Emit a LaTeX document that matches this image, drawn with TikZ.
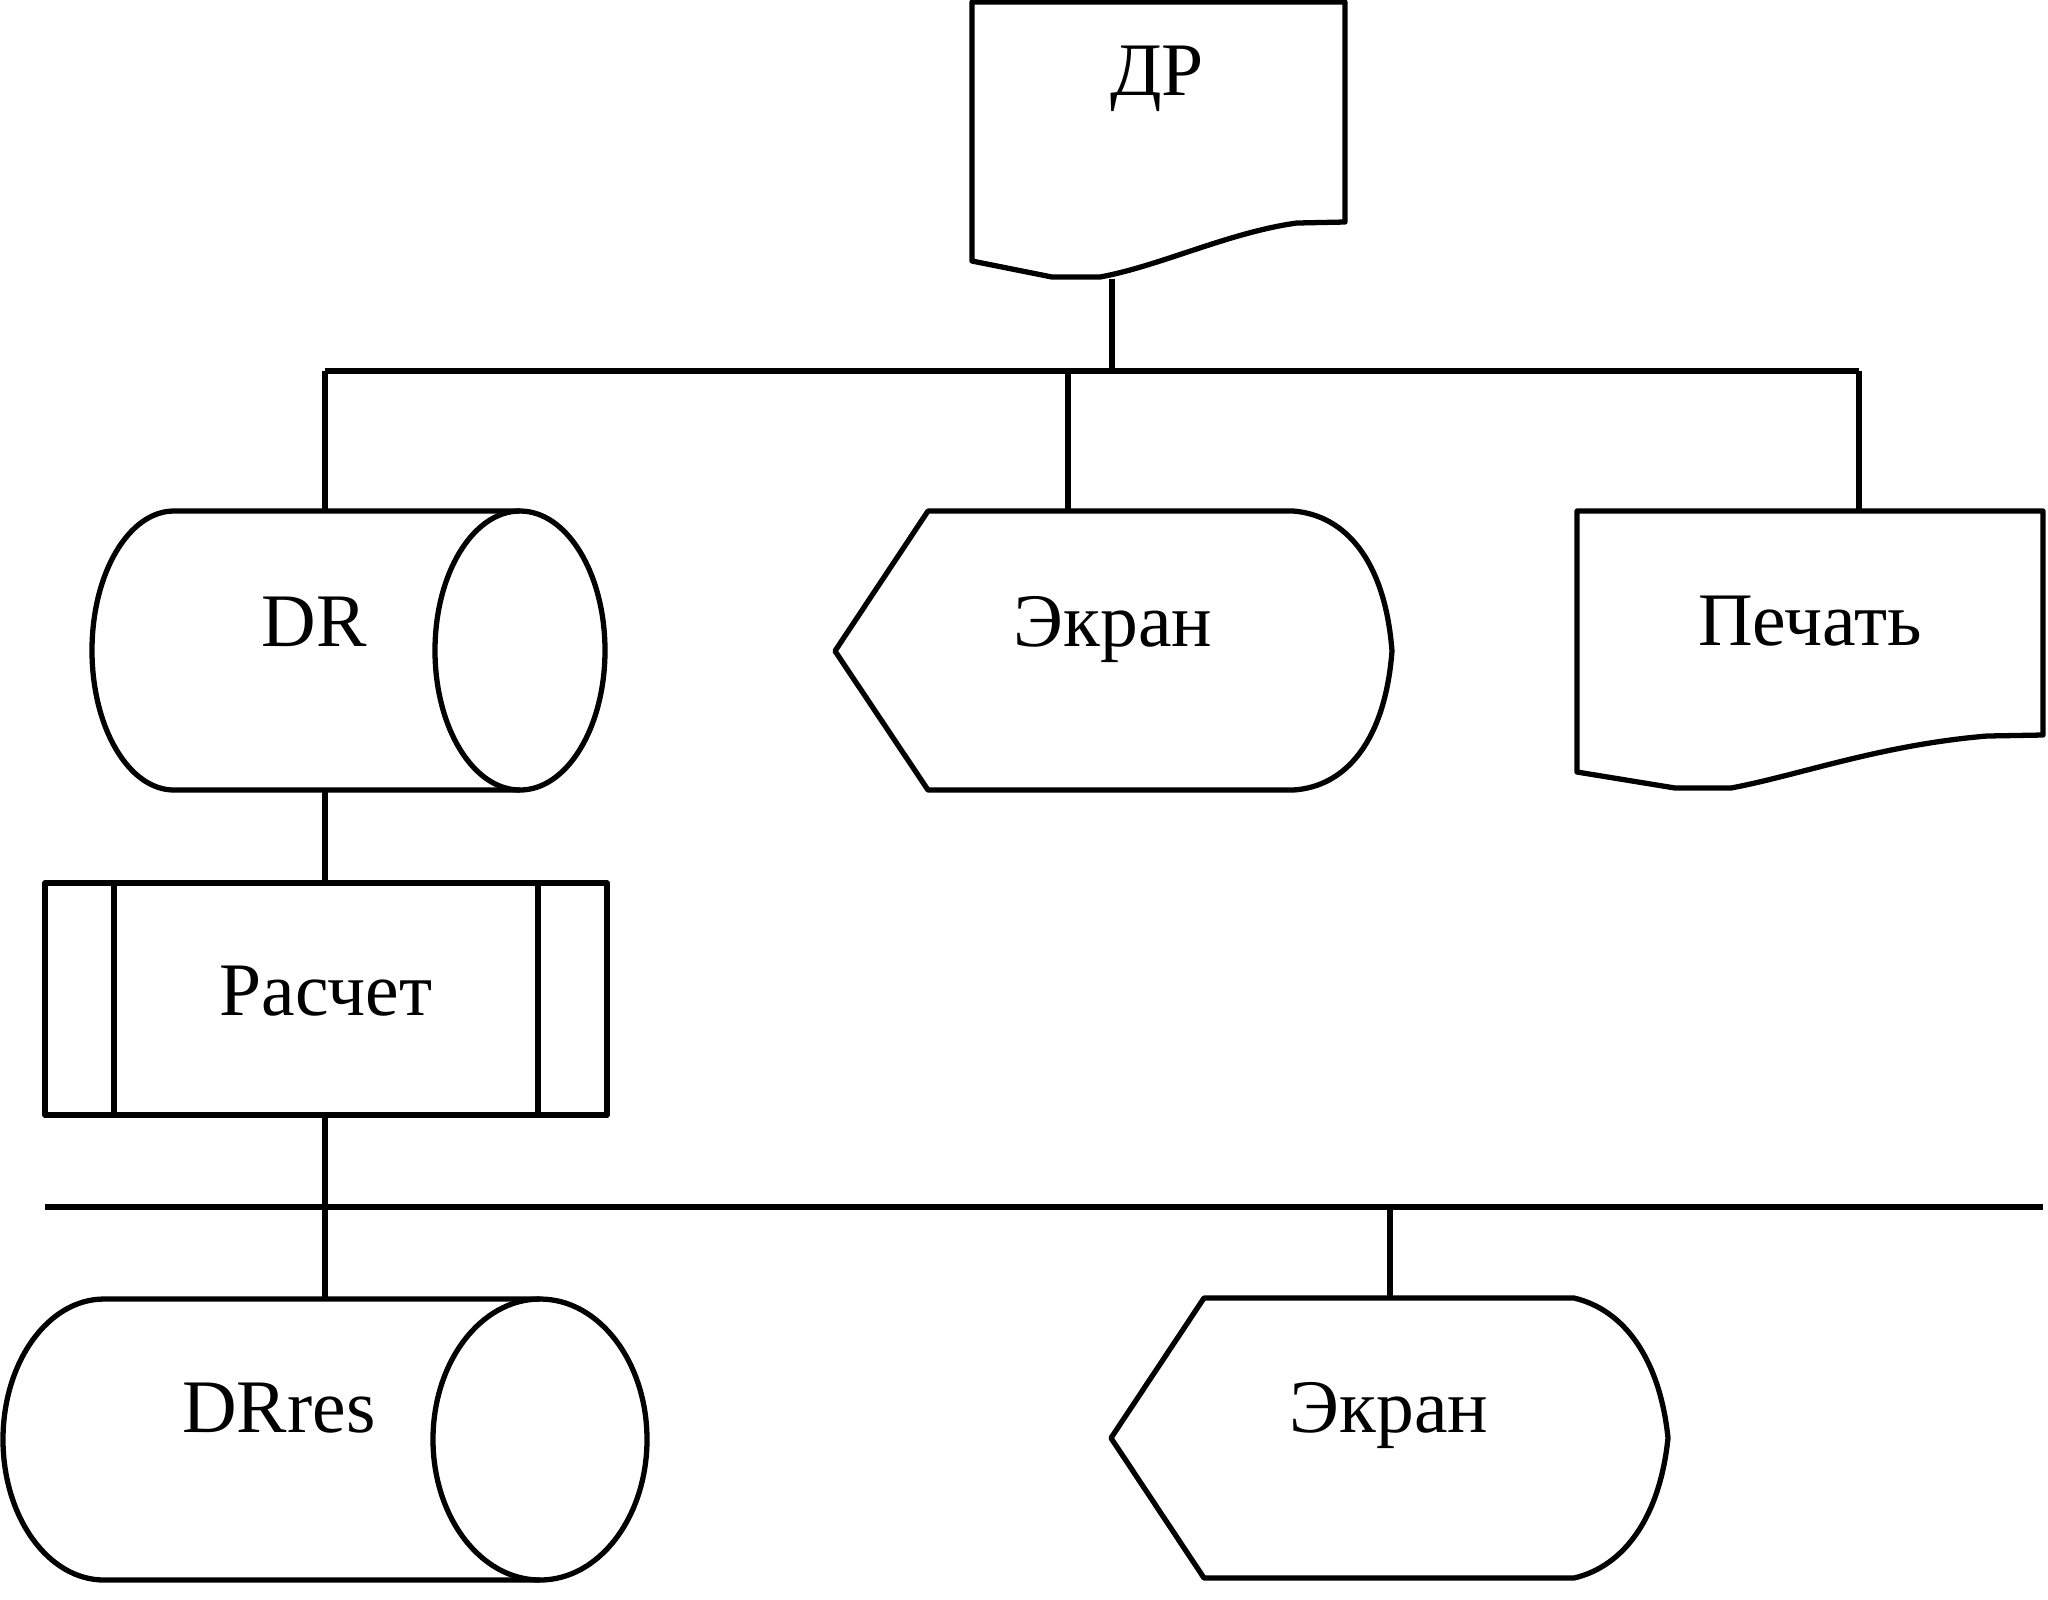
\documentclass[tikz,border=0pt]{standalone}
\usepackage{fontspec}
\setmainfont{Liberation Serif}
\usepackage{tikz}

\begin{document}
\begin{tikzpicture}
                        [x=0.01cm,y=-0.01cm,line width=1.5pt,line join=round,
                        lbl/.style={anchor=base,inner sep=0pt,font=\fontsize{21.5}{26}\selectfont}]
                        \useasboundingbox (0,0) rectangle (2048,1599);
                        % shapes
                        \draw (972,261) -- (1052,277) -- (1100,277) .. controls (1160,266) and (1230,232) .. (1297,223) -- (1345,222) -- (1345,2) -- (972,2) -- cycle;
                        \draw (520,511) -- (174,511) arc[start angle=270,end angle=90,x radius=82,y radius=139.5] -- (520,790);
                        \draw (520,650.5) ellipse[x radius=85,y radius=139.5];
                        \draw (928,511) -- (1293,511) .. controls (1345,515) and (1385,560) .. (1392,651) .. controls (1385,742) and (1345,787) .. (1293,790) -- (928,790) -- (835,651) -- cycle;
                        \draw (1577,772) -- (1675,788) -- (1731,788) .. controls (1800,775) and (1880,745) .. (1987,736) -- (2043,735) -- (2043,511) -- (1577,511) -- cycle;
                        \draw (45,883) rectangle (607,1115);
                        \draw (114,883) -- (114,1115);
                        \draw (538,883) -- (538,1115);
                        \draw (540,1299) -- (104,1299) arc[start angle=270,end angle=90,x radius=101,y radius=140.5] -- (540,1580);
                        \draw (540,1439.5) ellipse[x radius=107,y radius=140.5];
                        \draw (1204,1298) -- (1574,1298) .. controls (1625,1310) and (1660,1360) .. (1668,1438) .. controls (1660,1516) and (1625,1566) .. (1574,1578) -- (1204,1578) -- (1111,1438) -- cycle;
                        % labels
                        \node[lbl] (dp) at (1157,95) {ДР};
                        \node[lbl] (dr) at (314,646) {DR};
                        \node[lbl] (scr) at (1113,646) {Экран};
                        \node[lbl] (prn) at (1810,645) {Печать};
                        \node[lbl] (calc) at (326,1015) {Расчет};
                        \node[lbl] (res) at (279,1432) {DRres};
                        \node[lbl] (scr2) at (1389,1432) {Экран};
                        % ends of connectors
                        \coordinate (dp-s) at (1112,279);
                        \coordinate (b1) at (1112,371);
                        \coordinate (b1l) at (325,371);
                        \coordinate (b1m) at (1068,371);
                        \coordinate (b1r) at (1859,371);
                        \coordinate (dr-n) at (325,511);
                        \coordinate (scr-n) at (1068,511);
                        \coordinate (prn-n) at (1859,511);
                        \coordinate (dr-s) at (325,790);
                        \coordinate (calc-n) at (325,883);
                        \coordinate (calc-s) at (325,1115);
                        \coordinate (res-n) at (325,1299);
                        \coordinate (b2l) at (45,1207);
                        \coordinate (b2r) at (2043,1207);
                        \coordinate (b2s) at (1390,1207);
                        \coordinate (scr2-n) at (1390,1298);
                        \foreach \from/\to in {dp-s/b1,b1l/b1r,b1l/dr-n,b1m/scr-n,b1r/prn-n,dr-s/calc-n,calc-s/res-n,b2l/b2r,b2s/scr2-n}
                        \draw (\from) -- (\to);
                    \end{tikzpicture}
\end{document}
